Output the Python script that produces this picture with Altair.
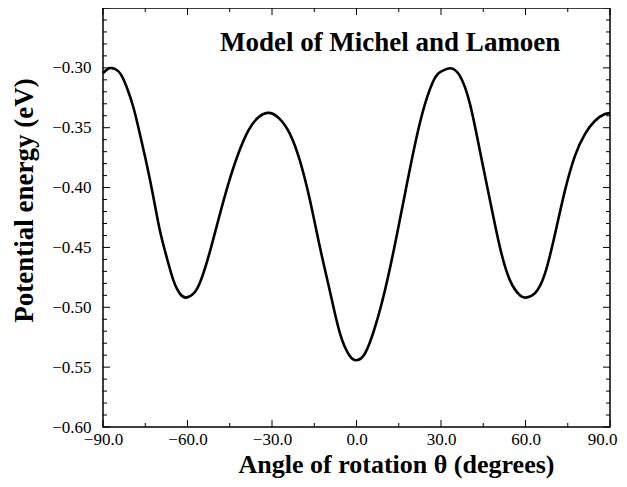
import altair as alt
import pandas as pd

# Curve (angle in degrees, potential energy in eV)
angle = [-90.0, -88.5, -86.8, -85.0, -83.5, -81.6, -79.2, -76.9, -74.5, -72.1,
         -69.8, -67.4, -65.0, -62.7, -60.5, -57.9, -55.6, -52.6, -49.1, -45.5,
         -42.0, -38.4, -34.9, -31.0, -27.2, -23.6, -20.1, -16.5, -13.0, -9.4,
         -5.9, -2.5, 0.0, 3.0, 6.6, 10.1, 13.7, 17.2, 20.8, 24.3,
         27.9, 30.5, 33.3, 36.7, 40.3, 43.8, 47.4, 50.9, 54.5, 58.0,
         60.2, 63.4, 66.9, 70.5, 74.0, 77.6, 81.1, 84.7, 88.2, 90.0]
energy = [-0.3045, -0.3012, -0.3002, -0.3020, -0.3060, -0.3160, -0.3331, -0.3553, -0.3803, -0.4081,
          -0.4358, -0.4581, -0.4775, -0.4886, -0.4919, -0.4886, -0.4795, -0.4581, -0.4275, -0.3969,
          -0.3719, -0.3525, -0.3414, -0.3376, -0.3428, -0.3553, -0.3775, -0.4108, -0.4497, -0.4870,
          -0.5215, -0.5402, -0.5442, -0.5386, -0.5164, -0.4858, -0.4469, -0.4053, -0.3636, -0.3303,
          -0.3081, -0.3025, -0.3003, -0.3067, -0.3303, -0.3692, -0.4108, -0.4497, -0.4775, -0.4900,
          -0.4919, -0.4881, -0.4719, -0.4386, -0.4025, -0.3733, -0.3553, -0.3442, -0.3386, -0.3381]

x_major = [-90, -60, -30, 0, 30, 60, 90]
x_minor = [-75, -45, -15, 15, 45, 75]
y_labels = [-0.60, -0.55, -0.50, -0.45, -0.40, -0.35, -0.30]
y_major = [-0.60, -0.55, -0.50, -0.45, -0.40, -0.35, -0.30, -0.25]
y_minor = [-0.59, -0.58, -0.57, -0.56, -0.54, -0.53, -0.52, -0.51,
           -0.49, -0.48, -0.47, -0.46, -0.44, -0.43, -0.42, -0.41,
           -0.39, -0.38, -0.37, -0.36, -0.34, -0.33, -0.32, -0.31,
           -0.29, -0.28, -0.27, -0.26]

title_text = "Model of Michel and Lamoen"
x_title = "Angle of rotation \u03b8 (degrees)"
y_title = "Potential energy (eV)"

W, H = 507, 419
FONT = "Liberation Serif"

df = pd.DataFrame({"angle": angle, "energy": energy})
xscale = alt.Scale(domain=[-90, 90], nice=False, zero=False)
yscale = alt.Scale(domain=[-0.60, -0.25], nice=False, zero=False)

xaxis = alt.Axis(values=x_major, ticks=False, domain=False, grid=False,
                 labelExpr="replace(format(datum.value, '.1f'), '-', '\u2212')",
                 labelFont=FONT, labelFontSize=17, labelColor="black", labelPadding=4,
                 labelOffset={"condition": {"test": "datum.value >= 90", "value": -8}, "value": 0},
                 title=x_title, titleFont=FONT, titleFontSize=26, titleFontWeight="bold",
                 titleColor="black", titleX=293, titleY=45, titleBaseline="alphabetic",
                 labelFlush=False)
yaxis = alt.Axis(values=y_labels, ticks=False, domain=False, grid=False,
                 labelExpr="replace(format(datum.value, '.2f'), '-', '\u2212')",
                 labelFont=FONT, labelFontSize=17, labelColor="black", labelPadding=12,
                 title=y_title, titleFont=FONT, titleFontSize=27, titleFontWeight="bold",
                 titleColor="black", titleX=-79, titleY=192, titleBaseline="middle",
                 titleAlign="center", labelFlush=False)

line = alt.Chart(df).mark_line(color="black", strokeWidth=2.6, interpolate="natural").encode(
    x=alt.X("angle:Q", scale=xscale, axis=xaxis, title=x_title),
    y=alt.Y("energy:Q", scale=yscale, axis=yaxis, title=y_title),
)

def yticks(vals, length):
    d = pd.DataFrame({"energy": vals})
    left = alt.Chart(d).mark_rule(color="black", strokeWidth=1).encode(
        y=alt.Y("energy:Q", scale=yscale, title=y_title), x=alt.value(0), x2=alt.value(length))
    right = alt.Chart(d).mark_rule(color="black", strokeWidth=1).encode(
        y=alt.Y("energy:Q", scale=yscale, title=y_title), x=alt.value(W), x2=alt.value(W - length))
    return [left, right]

def xticks(vals, length):
    d = pd.DataFrame({"angle": vals})
    bottom = alt.Chart(d).mark_rule(color="black", strokeWidth=1).encode(
        x=alt.X("angle:Q", scale=xscale, title=x_title), y=alt.value(H), y2=alt.value(H - length))
    top = alt.Chart(d).mark_rule(color="black", strokeWidth=1).encode(
        x=alt.X("angle:Q", scale=xscale, title=x_title), y=alt.value(0), y2=alt.value(length))
    return [bottom, top]

label = alt.Chart(pd.DataFrame({"t": [title_text]})).mark_text(
    font=FONT, fontSize=27, fontWeight="bold", color="black", align="left", baseline="alphabetic"
).encode(x=alt.datum(-48.5), y=alt.datum(-0.2859), text="t:N")

layers = [line] + yticks(y_major, 7) + yticks(y_minor, 4) + xticks(x_major, 7) + xticks(x_minor, 4) + [label]

chart = alt.layer(*layers).properties(
    width=W, height=H,
    autosize=alt.AutoSizeParams(type="none"),
    padding={"left": 95, "top": 0, "right": 9, "bottom": 52},
    background="white",
).configure_view(stroke="black", strokeWidth=1.5)

chart.save("out.html", embed_options={"renderer": "svg", "actions": False})
